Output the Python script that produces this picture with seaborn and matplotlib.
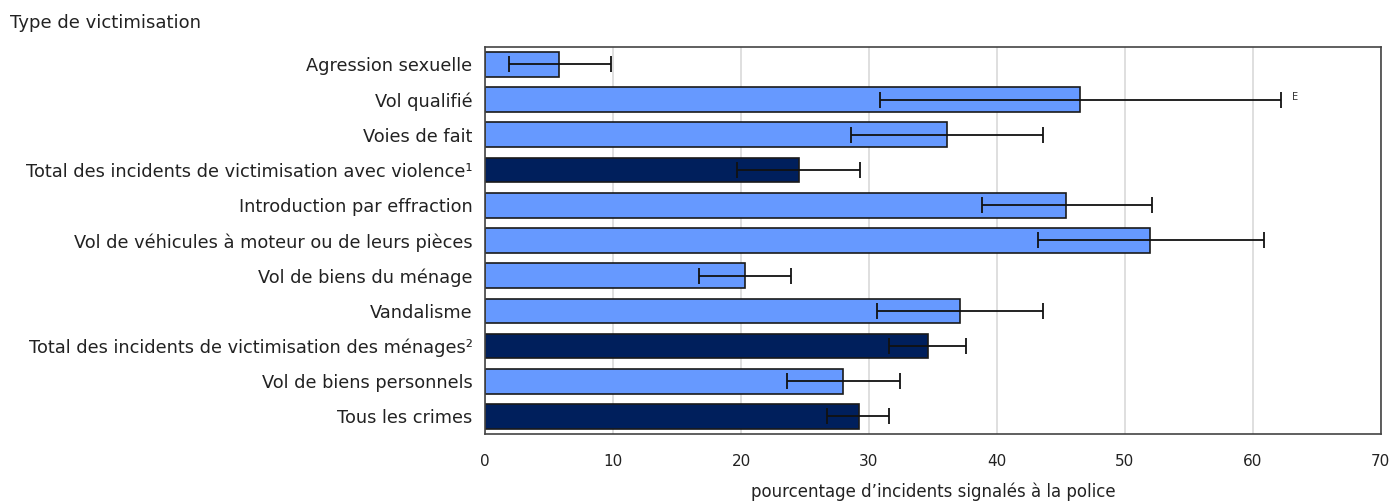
import matplotlib
matplotlib.use("Agg")
import matplotlib.pyplot as plt
import seaborn as sns
import pandas as pd
import numpy as np

categories = [
    "Agression sexuelle",
    "Vol qualifié",
    "Voies de fait",
    "Total des incidents de victimisation avec violence¹",
    "Introduction par effraction",
    "Vol de véhicules à moteur ou de leurs pièces",
    "Vol de biens du ménage",
    "Vandalisme",
    "Total des incidents de victimisation des ménages²",
    "Vol de biens personnels",
    "Tous les crimes",
]
values = [5.8, 46.5, 36.1, 24.5, 45.4, 52.0, 20.3, 37.1, 34.6, 28.0, 29.2]
ci_low = [1.9, 30.9, 28.6, 19.7, 38.8, 43.2, 16.7, 30.6, 31.6, 23.6, 26.7]
ci_high = [9.8, 62.2, 43.6, 29.3, 52.1, 60.9, 23.9, 43.6, 37.6, 32.4, 31.6]
kinds = ["détail", "détail", "détail", "total", "détail", "détail", "détail",
         "détail", "total", "détail", "total"]
flags = ["", "E", "", "", "", "", "", "", "", "", ""]
x_ticks = [0, 10, 20, 30, 40, 50, 60, 70]

df = pd.DataFrame({"categorie": categories, "valeur": values, "type": kinds})

sns.set_style("white")
plt.rcParams["font.family"] = ["DejaVu Sans"]
plt.rcParams["text.color"] = "#222222"
plt.rcParams["xtick.color"] = "#222222"
plt.rcParams["ytick.color"] = "#222222"
plt.rcParams["axes.labelcolor"] = "#222222"

fig = plt.figure(figsize=(13.94, 5.03), dpi=100)
ax = fig.add_axes([0.348, 0.137, 0.6425, 0.77])

palette = {"détail": "#6699FF", "total": "#001F5C"}
sns.barplot(data=df, x="valeur", y="categorie", hue="type", palette=palette,
            dodge=False, errorbar=None, width=0.7, saturation=1,
            edgecolor="#1a1a1a", linewidth=1.2, legend=False, ax=ax, zorder=2)

pos = np.arange(len(categories))
vals = np.array(values)
xerr = np.vstack([vals - np.array(ci_low), np.array(ci_high) - vals])
ax.errorbar(vals, pos, xerr=xerr, fmt="none", ecolor="#111111",
            elinewidth=1.3, capsize=5.5, capthick=1.3, zorder=3)

for y, hi, f in zip(pos, ci_high, flags):
    if f:
        ax.annotate(f, xy=(hi, y), xytext=(8, 2), textcoords="offset points",
                    fontsize=7, ha="left", va="center", color="#333333")

ax.set_xlim(0, 70)
ax.set_ylim(len(categories) - 0.5, -0.5)
ax.set_xticks(x_ticks)
ax.set_xticklabels([str(t) for t in x_ticks], fontsize=11)
ax.tick_params(axis="x", length=0, pad=14)
ax.tick_params(axis="y", length=0, pad=9, labelsize=12.8)
ax.set_ylabel("")
ax.set_xlabel("pourcentage d’incidents signalés à la police", fontsize=12,
              labelpad=10)
ax.xaxis.grid(True, color="#d9d9d9", linewidth=1.2, zorder=0)
ax.set_axisbelow(True)
for s in ax.spines.values():
    s.set_color("#444444")
    s.set_linewidth(1.2)

fig.text(0.007, 0.955, "Type de victimisation", fontsize=13, ha="left",
         va="center")

fig.savefig("out.png", dpi=100)
